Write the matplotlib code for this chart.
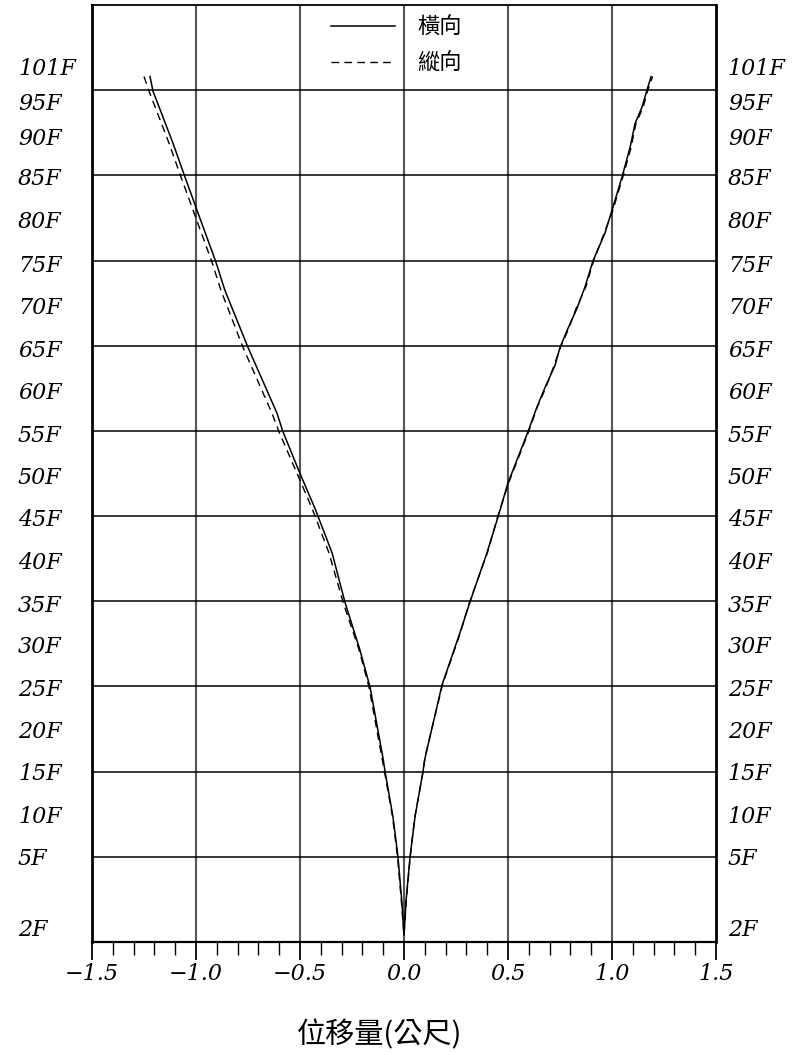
import matplotlib.pyplot as plt
from matplotlib.ticker import MultipleLocator

plt.rcParams['font.family'] = ['Noto Sans CJK TC', 'DejaVu Sans']

# elevation (plot units) where the floor labels sit
floor_labels = ['2F', '5F', '10F', '15F', '20F', '25F', '30F', '35F', '40F', '45F', '50F',
                '55F', '60F', '65F', '70F', '75F', '80F', '85F', '90F', '95F', '101F']
floor_label_y = [1.4, 9.8, 14.7, 19.7, 24.6, 29.6, 34.6, 39.5, 44.5, 49.5, 54.5,
                 59.4, 64.4, 69.4, 74.4, 79.4, 84.5, 89.6, 94.3, 98.4, 102.5]

# negative envelope (top -> bottom)
neg_y = [101.6, 99.9, 93.8, 89.8, 85.9, 79.8, 76.5, 69.8, 62.1, 59.9, 55.0,
         50.9, 45.7, 39.9, 34.3, 29.9, 21.6, 20.0, 14.7, 10.0, 4.6, 0.8]
lat_neg = [-1.221, -1.207, -1.111, -1.053, -0.995, -0.904, -0.861, -0.750, -0.611, -0.582, -0.500,
           -0.428, -0.346, -0.284, -0.212, -0.163, -0.101, -0.091, -0.053, -0.029, -0.010, 0.0]
lon_neg = [-1.250, -1.226, -1.130, -1.072, -1.014, -0.923, -0.880, -0.774, -0.635, -0.601, -0.514,
           -0.442, -0.361, -0.293, -0.216, -0.168, -0.106, -0.094, -0.055, -0.031, -0.012, 0.0]

# positive envelope (top -> bottom)
pos_y = [101.6, 100.0, 98.0, 96.1, 93.3, 89.8, 85.9, 83.2, 80.0, 76.9, 74.4, 71.8, 69.8, 67.7, 65.1,
         62.8, 59.9, 53.9, 49.9, 45.7, 39.9, 36.3, 30.2, 21.6, 20.0, 14.7, 10.0, 4.9, 0.8]
lat_pos = [1.188, 1.168, 1.144, 1.111, 1.087, 1.048, 1.000, 0.966, 0.909, 0.870, 0.832, 0.784, 0.750, 0.726, 0.678,
           0.639, 0.596, 0.500, 0.452, 0.399, 0.317, 0.269, 0.183, 0.101, 0.091, 0.053, 0.029, 0.010, 0.0]
lon_pos = [1.195, 1.172, 1.150, 1.115, 1.092, 1.052, 1.004, 0.962, 0.912, 0.874, 0.828, 0.788, 0.752, 0.722, 0.682,
           0.641, 0.599, 0.503, 0.450, 0.401, 0.315, 0.271, 0.185, 0.100, 0.092, 0.052, 0.030, 0.011, 0.0]

x_ticks = [-1.5, -1.0, -0.5, 0.0, 0.5, 1.0, 1.5]
x_tick_labels = ['\u22121.5', '\u22121.0', '\u22120.5', '0.0', '0.5', '1.0', '1.5']

label_font = dict(fontsize=16, style='italic', family='DejaVu Serif')

fig = plt.figure(figsize=(8.07, 10.55), dpi=100)
ax = fig.add_axes([92 / 807, 113 / 1055, 624 / 807, 937 / 1055])
ax.set_xlim(-1.5, 1.5)
ax.set_ylim(0, 110)

# one line per series: down the negative side, back up the positive side
ax.plot(lat_neg + lat_pos[::-1], neg_y + pos_y[::-1], color='black', lw=1.1, label='橫向', zorder=3)
ax.plot(lon_neg + lon_pos[::-1], neg_y + pos_y[::-1], color='black', lw=1.0,
        dashes=[5.5, 3.8], label='縱向', zorder=3)

for v in [-1.0, -0.5, 0.0, 0.5, 1.0]:
    ax.axvline(v, color='#555555', lw=1.5, zorder=1)
for h in range(10, 101, 10):
    ax.axhline(h, color='black', lw=1.1, zorder=1)

ax.set_yticks([])
ax.set_xticks(x_ticks)
ax.set_xticklabels(x_tick_labels, **label_font)
ax.xaxis.set_minor_locator(MultipleLocator(0.1))
ax.tick_params(axis='x', which='major', direction='out', length=13, width=1.3, pad=2)
ax.tick_params(axis='x', which='minor', direction='out', length=9.4, width=1.0)

for side in ['left', 'right']:
    ax.spines[side].set_linewidth(2.0)
ax.spines['bottom'].set_linewidth(1.6)
ax.spines['top'].set_linewidth(1.3)

for lab, yy in zip(floor_labels, floor_label_y):
    ax.text(-0.1186, yy, lab, transform=ax.get_yaxis_transform(), ha='left', va='center', **label_font)
    ax.text(1.019, yy, lab, transform=ax.get_yaxis_transform(), ha='left', va='center', **label_font)

ax.legend(loc='upper left', bbox_to_anchor=(0.383, 0.988), frameon=False, fontsize=16,
          handlelength=2.9, handletextpad=1.0, labelspacing=0.55, borderpad=0, borderaxespad=0)

fig.text(380 / 807, 1 - 1035 / 1055, '位移量(公尺)', ha='center', va='center', fontsize=21)

fig.savefig('out.png', dpi=100)
